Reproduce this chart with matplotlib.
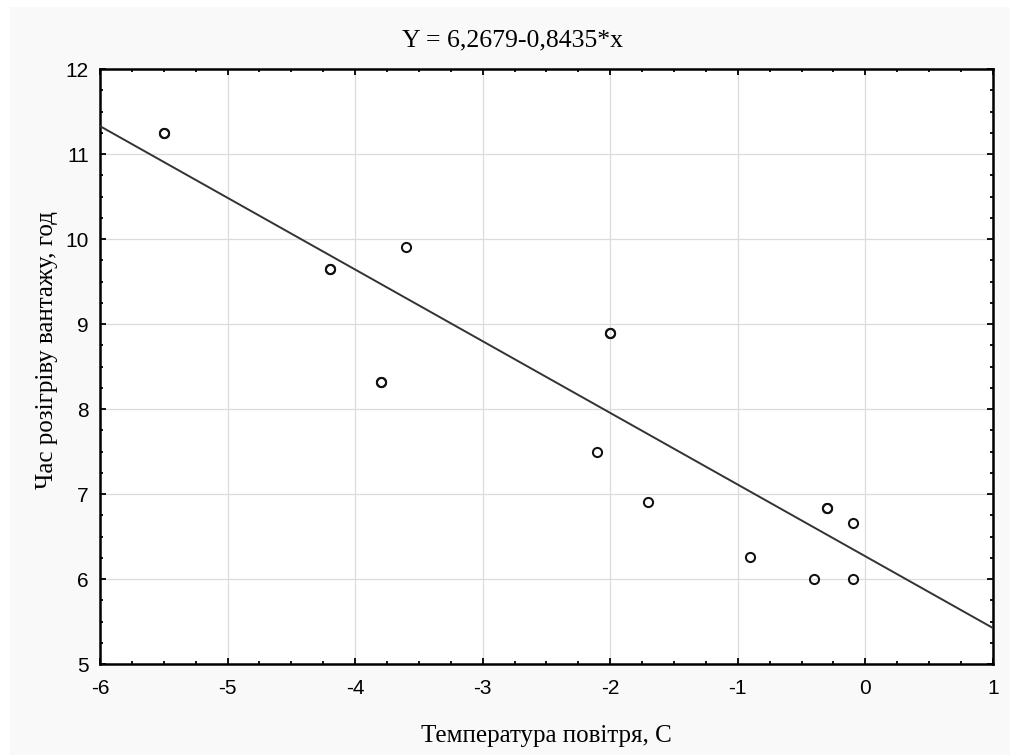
import numpy as np
import matplotlib.pyplot as plt
from matplotlib.ticker import MultipleLocator
from matplotlib.patches import Rectangle

plt.rcParams['axes.unicode_minus'] = False
plt.rcParams['font.family'] = 'Liberation Sans'

# air temperature, C  vs  cargo warm-up time, h (repeated points drawn twice)
temp = [-5.5, -5.5, -4.2, -4.2, -3.6, -3.8, -3.8, -2.0, -2.0, -2.1, -1.7,
        -0.9, -0.4, -0.3, -0.3, -0.1, -0.1]
hours = [11.25, 11.25, 9.65, 9.65, 9.91, 8.32, 8.32, 8.9, 8.9, 7.49, 6.91,
         6.26, 6.0, 6.84, 6.84, 6.66, 6.0]

# regression from the title
b0 = 6.2679
b1 = -0.8435

fig = plt.figure(figsize=(10.1, 7.55), dpi=100, facecolor='white')
fig.patches.append(Rectangle((10 / 1010, 0), 1, 1 - 7 / 755, transform=fig.transFigure,
                             facecolor='#f9f9f9', edgecolor='none', zorder=-10))
ax = fig.add_axes([0.099, 0.1205, 0.884, 0.788])
ax.set_facecolor('white')

xs = np.array([-6.0, 1.0])
ax.plot(xs, b0 + b1 * xs, color='#333333', lw=1.4, zorder=3)
ax.plot(temp, hours, 'o', ms=6.6, mfc='none', mec='#111111', mew=1.45, zorder=4)

ax.set_xlim(-6, 1)
ax.set_ylim(5, 12)
ax.xaxis.set_major_locator(MultipleLocator(1))
ax.xaxis.set_minor_locator(MultipleLocator(0.25))
ax.yaxis.set_major_locator(MultipleLocator(1))
ax.yaxis.set_minor_locator(MultipleLocator(0.25))
ax.grid(True, which='major', color='#dcdcdc', lw=0.9, zorder=0)
ax.set_axisbelow(True)

for s in ax.spines.values():
    s.set_linewidth(1.8)
    s.set_color('black')
ax.tick_params(which='both', direction='in', top=True, right=True, color='black', width=1.3)
ax.tick_params(which='major', length=4, labelsize=15)
ax.tick_params(axis='x', which='major', pad=10.5)
ax.tick_params(axis='y', which='major', pad=8)
ax.tick_params(which='minor', length=2.5)

serif = 'Liberation Serif'
fig.text(0.507, 0.947, 'Y = 6,2679-0,8435*x', family=serif, fontsize=18.5,
         ha='center', va='center')
ax.set_xlabel('Температура повітря, С', family=serif, fontsize=18, labelpad=20)
ax.set_ylabel('Час розігріву вантажу, год', family=serif, fontsize=18)
ax.yaxis.set_label_coords(-0.0465, 0.528)

fig.savefig('out.png', dpi=100, facecolor=fig.get_facecolor())
